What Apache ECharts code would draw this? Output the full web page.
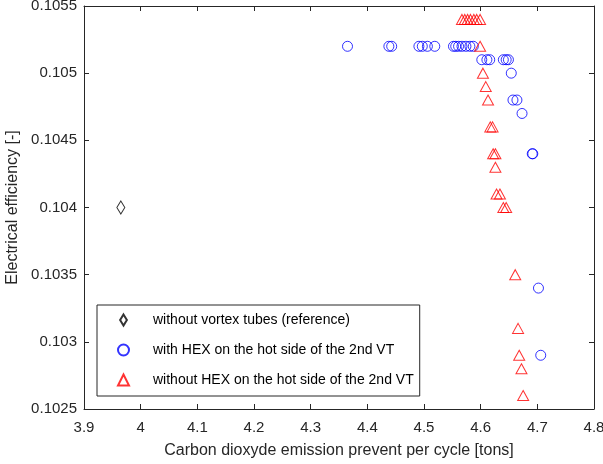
<!DOCTYPE html>
<html>
<head>
<meta charset="utf-8">
<script src="https://cdn.jsdelivr.net/npm/echarts@6/dist/echarts.min.js"></script>
<style>
  html, body { margin: 0; padding: 0; background: #fff; }
  #chart { width: 603px; height: 464px; }
</style>
</head>
<body>
<div id="chart"></div>
<script>
// reference case
const refX = [3.965];
const refY = [0.104];

// with HEX on the hot side of the 2nd VT
const hexX = [4.365, 4.438, 4.443, 4.491, 4.497, 4.506, 4.519, 4.552, 4.556, 4.561, 4.567, 4.574, 4.581, 4.587,
  4.602, 4.611, 4.616, 4.640, 4.645, 4.649, 4.654, 4.657, 4.664, 4.673, 4.691, 4.692, 4.702, 4.706];
const hexY = [0.1052, 0.1052, 0.1052, 0.1052, 0.1052, 0.1052, 0.1052, 0.1052, 0.1052, 0.1052, 0.1052, 0.1052, 0.1052, 0.1052,
  0.1051, 0.1051, 0.1051, 0.1051, 0.1051, 0.1051, 0.1050, 0.1048, 0.1048, 0.1047, 0.1044, 0.1044, 0.1034, 0.1029];

// without HEX on the hot side of the 2nd VT
const noHexX = [4.567, 4.572, 4.577, 4.582, 4.588, 4.593, 4.599, 4.599, 4.604, 4.609, 4.613, 4.617, 4.621,
  4.622, 4.626, 4.626, 4.628, 4.634, 4.640, 4.645, 4.661, 4.666, 4.668, 4.672, 4.675];
const noHexY = [0.1054, 0.1054, 0.1054, 0.1054, 0.1054, 0.1054, 0.1054, 0.1052, 0.1050, 0.1049, 0.1048, 0.1046, 0.1046,
  0.1044, 0.1044, 0.1043, 0.1041, 0.1041, 0.1040, 0.1040, 0.1035, 0.1031, 0.1029, 0.1028, 0.1026];

const legendNames = ['without vortex tubes (reference)', 'with HEX on the hot side of the 2nd VT', 'without HEX on the hot side of the 2nd VT'];

const pairs = (xs, ys) => xs.map((x, i) => [x, ys[i]]);
const axisColor = '#262626';
const font = 'Liberation Sans, Arial, Helvetica, sans-serif';

const chart = echarts.init(document.getElementById('chart'));

const baseX = {
  type: 'value', min: 3.9, max: 4.8, interval: 0.1,
  axisLine: { show: true, lineStyle: { color: axisColor, width: 1 } },
  axisTick: { show: true, inside: true, length: 5, lineStyle: { color: axisColor } },
  splitLine: { show: false }
};
const baseY = {
  type: 'value', min: 0.1025, max: 0.1055, interval: 0.0005,
  axisLine: { show: true, lineStyle: { color: axisColor, width: 1 } },
  axisTick: { show: true, inside: true, length: 5, lineStyle: { color: axisColor } },
  splitLine: { show: false }
};

const option = {
  animation: false,
  backgroundColor: '#fff',
  grid: { left: 84, top: 6, width: 510, height: 403, show: false, outerBoundsMode: 'none' },
  legend: {
    data: [
      { name: legendNames[0], icon: 'path://M4,0 L8,6.5 L4,13 L0,6.5 Z' },
      { name: legendNames[1] },
      { name: legendNames[2] }
    ],
    orient: 'vertical',
    left: 97, top: 305,
    padding: [7, 6, 8, 20],
    itemWidth: 11, itemHeight: 11, itemGap: 14,
    borderColor: axisColor, borderWidth: 1,
    backgroundColor: '#fff',
    textStyle: { fontFamily: font, fontSize: 14, lineHeight: 16, color: '#000', padding: [0, 0, 0, 19] }
  },
  xAxis: [
    Object.assign({}, baseX, {
      position: 'bottom',
      name: 'Carbon dioxyde emission prevent per cycle [tons]',
      nameLocation: 'middle', nameGap: 34,
      nameTextStyle: { fontFamily: font, fontSize: 16, color: axisColor },
      axisLabel: { fontFamily: font, fontSize: 15, color: axisColor, margin: 11,
        formatter: v => parseFloat(v.toFixed(1)).toString() }
    }),
    Object.assign({}, baseX, { position: 'top', axisLabel: { show: false } })
  ],
  yAxis: [
    Object.assign({}, baseY, {
      position: 'left',
      name: 'Electrical efficiency [-]',
      nameLocation: 'middle', nameGap: 60,
      nameTextStyle: { fontFamily: font, fontSize: 16, color: axisColor },
      axisLabel: { fontFamily: font, fontSize: 15, color: axisColor, margin: 7,
        formatter: v => parseFloat(v.toFixed(4)).toString() }
    }),
    Object.assign({}, baseY, { position: 'right', axisLabel: { show: false } })
  ],
  series: [
    {
      name: legendNames[0], type: 'scatter', symbol: 'diamond', symbolSize: [8, 13],
      itemStyle: { color: 'rgba(0,0,0,0)', borderColor: '#000', borderWidth: 1 },
      data: pairs(refX, refY)
    },
    {
      name: legendNames[1], type: 'scatter', symbol: 'circle', symbolSize: 10,
      itemStyle: { color: 'rgba(0,0,0,0)', borderColor: '#0000ff', borderWidth: 1 },
      data: pairs(hexX, hexY)
    },
    {
      name: legendNames[2], type: 'scatter', symbol: 'triangle', symbolSize: [11, 10],
      itemStyle: { color: 'rgba(0,0,0,0)', borderColor: '#ff0000', borderWidth: 1 },
      data: pairs(noHexX, noHexY)
    }
  ]
};

chart.setOption(option);
</script>
</body>
</html>
